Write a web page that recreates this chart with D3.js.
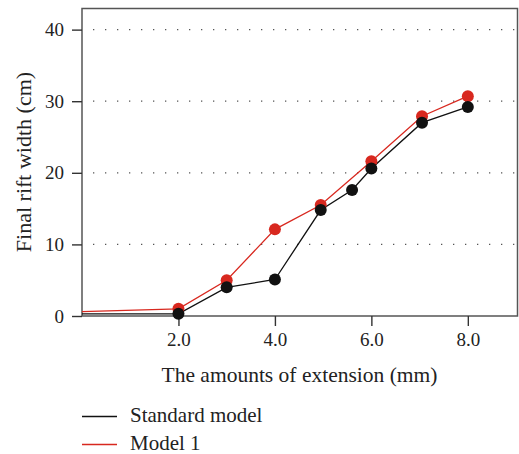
<!DOCTYPE html>
<meta charset="utf-8">
<script src="https://d3js.org/d3.v7.min.js"></script>
<style>
  body { margin: 0; background: #fff; }
  text { font-family: "Liberation Serif", "Times New Roman", serif; fill: #222; }
</style>
<body>
<div id="chart"></div>
<script>
// data
var stdX = [0, 2, 3, 4, 4.95, 5.6, 6, 7.05, 8];
var stdY = [0.3, 0.3, 4.0, 5.1, 14.8, 17.6, 20.6, 27.0, 29.2];
var m1X = [0, 2, 3, 4, 4.95, 6, 7.05, 8];
var m1Y = [0.6, 1.0, 5.0, 12.1, 15.5, 21.6, 27.9, 30.7];
var xTicks = [2, 4, 6, 8];
var yTicks = [0, 10, 20, 30, 40];
var seriesNames = ["Standard model", "Model 1"];
var seriesColors = ["#111111", "#d8281f"];

var W = 519, H = 454;
var margin = {top: 8.5, right: 1.5, bottom: 138, left: 82};
var width = W - margin.left - margin.right,
    height = H - margin.top - margin.bottom;

var svg = d3.select("#chart").append("svg")
  .attr("width", W).attr("height", H);
var g = svg.append("g")
  .attr("transform", "translate(" + margin.left + "," + margin.top + ")");

var x = d3.scaleLinear().domain([0, 9.03]).range([0, width]);
var y = d3.scaleLinear().domain([0, 42.95]).range([height, 0]);

// dotted grid lines
g.selectAll(".grid").data(yTicks.filter(function(d) { return d > 0; }))
  .enter().append("line")
  .attr("x1", 11).attr("x2", width)
  .attr("y1", function(d) { return y(d); })
  .attr("y2", function(d) { return y(d); })
  .attr("stroke", "#555")
  .attr("stroke-width", 1.3)
  .attr("stroke-dasharray", "1.3,10.7");

// frame
g.append("rect")
  .attr("width", width).attr("height", height)
  .attr("fill", "none").attr("stroke", "#555").attr("stroke-width", 1.5);

// axes
var xAxis = g.append("g")
  .attr("transform", "translate(0," + height + ")")
  .call(d3.axisBottom(x).tickValues(xTicks).tickFormat(d3.format(".1f"))
    .tickSize(10).tickPadding(7));
var yAxis = g.append("g")
  .call(d3.axisLeft(y).tickValues(yTicks).tickSize(10).tickPadding(8));
[xAxis, yAxis].forEach(function(a) {
  a.select(".domain").remove();
  a.selectAll("line").attr("stroke", "#333").attr("stroke-width", 1.4);
  a.selectAll("text").style("font-size", "19px").attr("fill", "#222")
    .style("font-family", "'Liberation Serif', serif");
});

// lines and markers
var line = d3.line().x(function(d) { return x(d[0]); }).y(function(d) { return y(d[1]); });
var series = [d3.zip(stdX, stdY), d3.zip(m1X, m1Y)];

series.forEach(function(s, i) {
  g.append("path").datum(s)
    .attr("d", line).attr("fill", "none")
    .attr("stroke", seriesColors[i]).attr("stroke-width", 1.3);
});
// red dots first so black sits on top
[1, 0].forEach(function(i) {
  g.selectAll(".dot" + i).data(series[i].slice(1))
    .enter().append("circle")
    .attr("cx", function(d) { return x(d[0]); })
    .attr("cy", function(d) { return y(d[1]); })
    .attr("r", 6)
    .attr("fill", seriesColors[i]);
});

// axis titles
svg.append("text")
  .attr("x", 299.5).attr("y", 382)
  .attr("text-anchor", "middle")
  .style("font-size", "21.5px")
  .text("The amounts of extension (mm)");
svg.append("text")
  .attr("transform", "translate(31,162) rotate(-90)")
  .attr("text-anchor", "middle")
  .style("font-size", "22px")
  .text("Final rift width (cm)");

// legend
var leg = svg.append("g").attr("transform", "translate(82,416.5)");
seriesNames.forEach(function(name, i) {
  leg.append("line")
    .attr("x1", 0).attr("x2", 35)
    .attr("y1", i * 28).attr("y2", i * 28)
    .attr("stroke", seriesColors[i]).attr("stroke-width", 1.3);
  leg.append("text")
    .attr("x", 48).attr("y", i * 28 + 5.5)
    .style("font-size", "21px")
    .text(name);
});
</script>
</body>
